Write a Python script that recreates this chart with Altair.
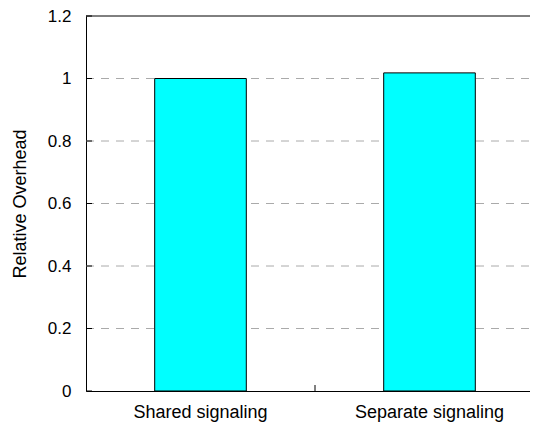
import altair as alt
import pandas as pd

categories = ["Shared signaling", "Separate signaling"]
overhead = [1.0, 1.018]
y_ticks = [0, 0.2, 0.4, 0.6, 0.8, 1.0, 1.2]
grid_values = [0.2, 0.4, 0.6, 0.8, 1.0]
top_value = [1.2]

df = pd.DataFrame({"cat": categories, "value": overhead})
ticks_df = pd.DataFrame({"value": y_ticks})
grid_df = pd.DataFrame({"value": grid_values})
top_df = pd.DataFrame({"value": top_value})
sep_df = pd.DataFrame({"cat": categories[:1]})

W, H = 444, 375     # visible plot area (svg is clipped at the window edge)
FULL_W = 458        # full plot width of the original chart
FONT = "Liberation Sans"

xscale = alt.Scale(domain=categories, range=[0, FULL_W], paddingInner=0, paddingOuter=0)
yscale = alt.Scale(domain=[0, 1.2], nice=False, zero=True)

x_axis = alt.Axis(title=None, labelAngle=0, ticks=False, domain=True,
                  domainColor="black", labelFontSize=18, labelPadding=12,
                  labelColor="black", labelFont=FONT)
y_axis = alt.Axis(values=y_ticks, grid=False, ticks=False, labelPadding=15,
                  labelFontSize=17, labelColor="black", labelFont=FONT,
                  domainColor="black", format="~g",
                  title="Relative Overhead", titleFontSize=18,
                  titleFontWeight="normal", titleFont=FONT, titleColor="black",
                  titleX=-61, titleY=H / 2, titleBaseline="alphabetic",
                  titleAngle=270)

grid = alt.Chart(grid_df).mark_rule(color="#aaaaaa", strokeDash=[8, 7], strokeWidth=1).encode(
    y=alt.Y("value:Q", scale=yscale, axis=y_axis),
    x=alt.value(0), x2=alt.value(FULL_W),
)

top = alt.Chart(top_df).mark_rule(color="black", strokeWidth=1).encode(
    y=alt.Y("value:Q", scale=yscale),
    x=alt.value(0), x2=alt.value(FULL_W),
)

bars = alt.Chart(df).mark_bar(
    width={"band": 0.4}, color="#00FFFF", stroke="black", strokeWidth=1
).encode(
    x=alt.X("cat:N", scale=xscale, sort=categories, axis=x_axis),
    y=alt.Y("value:Q", scale=yscale, axis=y_axis),
)

yticks = alt.Chart(ticks_df).mark_rule(color="black", strokeWidth=1).encode(
    y=alt.Y("value:Q", scale=yscale),
    x=alt.value(0), x2=alt.value(6),
)

sep = alt.Chart(sep_df).mark_rule(color="black", strokeWidth=1).encode(
    x=alt.X("cat:N", scale=xscale, sort=categories, bandPosition=1, axis=x_axis),
    y=alt.value(H - 6), y2=alt.value(H),
)

chart = alt.layer(grid, top, bars, yticks, sep).properties(
    width=W, height=H,
    autosize=alt.AutoSizeParams(type="none"),
    padding={"left": 78, "top": 8, "right": 0, "bottom": 36},
).configure_view(strokeWidth=0, stroke=None)

chart.save("out.html", embed_options={"renderer": "svg", "actions": False})
